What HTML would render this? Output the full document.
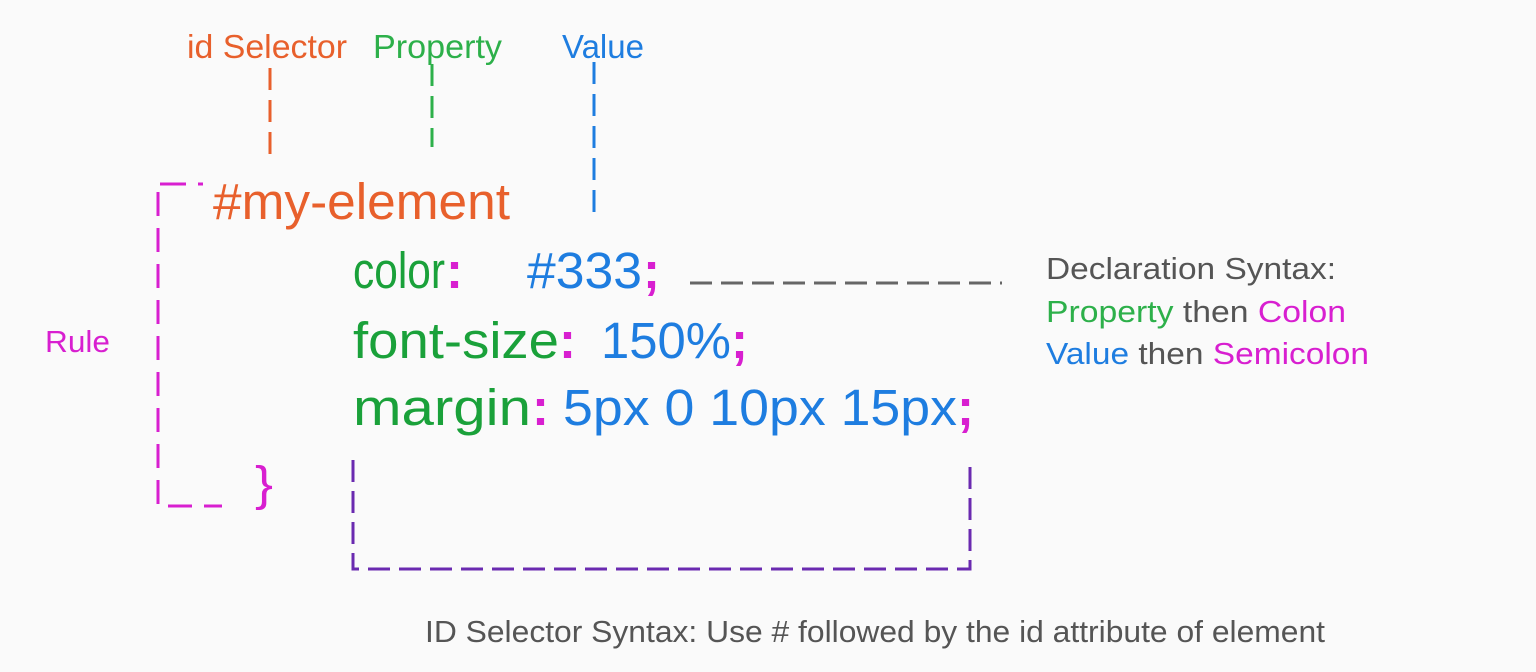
<!DOCTYPE html>
<html><head><meta charset="utf-8"><style>
html,body{margin:0;padding:0;background:#fafafa;}
svg{display:block;font-family:"Liberation Sans","DejaVu Sans",sans-serif;}
</style></head><body>
<svg width="1536" height="672" viewBox="0 0 1536 672" xmlns="http://www.w3.org/2000/svg">
<rect width="1536" height="672" fill="#fafafa"/>
<g font-size="33">
<text x="187" y="58" fill="#e8602c" textLength="160" lengthAdjust="spacingAndGlyphs">id Selector</text>
<text x="373" y="58" fill="#2db04a" textLength="129" lengthAdjust="spacingAndGlyphs">Property</text>
<text x="562" y="58" fill="#1e7de0" textLength="82" lengthAdjust="spacingAndGlyphs">Value</text>
</g>
<g stroke-width="3" fill="none">
<line x1="270" y1="68" x2="270" y2="155" stroke="#e8602c" stroke-dasharray="22,10"/>
<line x1="432" y1="64" x2="432" y2="147" stroke="#2db04a" stroke-dasharray="22,10"/>
<line x1="594" y1="62" x2="594" y2="218" stroke="#1e7de0" stroke-dasharray="22,10"/>
<line x1="690" y1="283" x2="1002" y2="283" stroke="#666" stroke-dasharray="22,9"/>
<path d="M158 192 V505" stroke="#d81fd0" stroke-dasharray="24,12"/>
<path d="M160 184 H186 M198 184 H203" stroke="#d81fd0"/>
<path d="M168 506 H192 M204 506 H222" stroke="#d81fd0"/>
<path d="M353 460 V569 H970 V460" stroke="#6a2ab0" stroke-dasharray="22,9"/>
</g>
<text x="45" y="352" font-size="31" fill="#d81fd0" textLength="65" lengthAdjust="spacingAndGlyphs">Rule</text>
<text x="213" y="219" font-size="51" fill="#e8602c" textLength="297" lengthAdjust="spacingAndGlyphs">#my-element</text>
<g font-size="51">
<text x="353" y="288" fill="#1aa13a" textLength="92" lengthAdjust="spacingAndGlyphs">color</text>
<text x="446" y="288" fill="#d81fd0" font-weight="bold">:</text>
<text x="527" y="288" fill="#1e7de0" textLength="115" lengthAdjust="spacingAndGlyphs">#333</text>
<text x="643" y="288" fill="#d81fd0" font-weight="bold">;</text>
<text x="353" y="358" fill="#1aa13a" textLength="206" lengthAdjust="spacingAndGlyphs">font-size</text>
<text x="559" y="358" fill="#d81fd0" font-weight="bold">:</text>
<text x="601" y="358" fill="#1e7de0" textLength="130" lengthAdjust="spacingAndGlyphs">150%</text>
<text x="731" y="358" fill="#d81fd0" font-weight="bold">;</text>
<text x="353" y="425" fill="#1aa13a" textLength="178" lengthAdjust="spacingAndGlyphs">margin</text>
<text x="532" y="425" fill="#d81fd0" font-weight="bold">:</text>
<text x="563" y="425" fill="#1e7de0" textLength="394" lengthAdjust="spacingAndGlyphs">5px 0 10px 15px</text>
<text x="957" y="425" fill="#d81fd0" font-weight="bold">;</text>
<text x="255" y="500" fill="#d81fd0" font-size="48" textLength="18" lengthAdjust="spacingAndGlyphs">}</text>
</g>
<g font-size="31">
<text x="1046" y="279" fill="#555" textLength="290" lengthAdjust="spacingAndGlyphs">Declaration Syntax:</text>
<text x="1046" y="322" fill="#555" textLength="300" lengthAdjust="spacingAndGlyphs"><tspan fill="#2db04a">Property</tspan> then <tspan fill="#d81fd0">Colon</tspan></text>
<text x="1046" y="364" fill="#555" textLength="323" lengthAdjust="spacingAndGlyphs"><tspan fill="#1e7de0">Value</tspan> then <tspan fill="#d81fd0">Semicolon</tspan></text>
</g>
<text x="425" y="642" font-size="31" fill="#555" textLength="900" lengthAdjust="spacingAndGlyphs">ID Selector Syntax: Use # followed by the id attribute of element</text>
</svg>
</body></html>
